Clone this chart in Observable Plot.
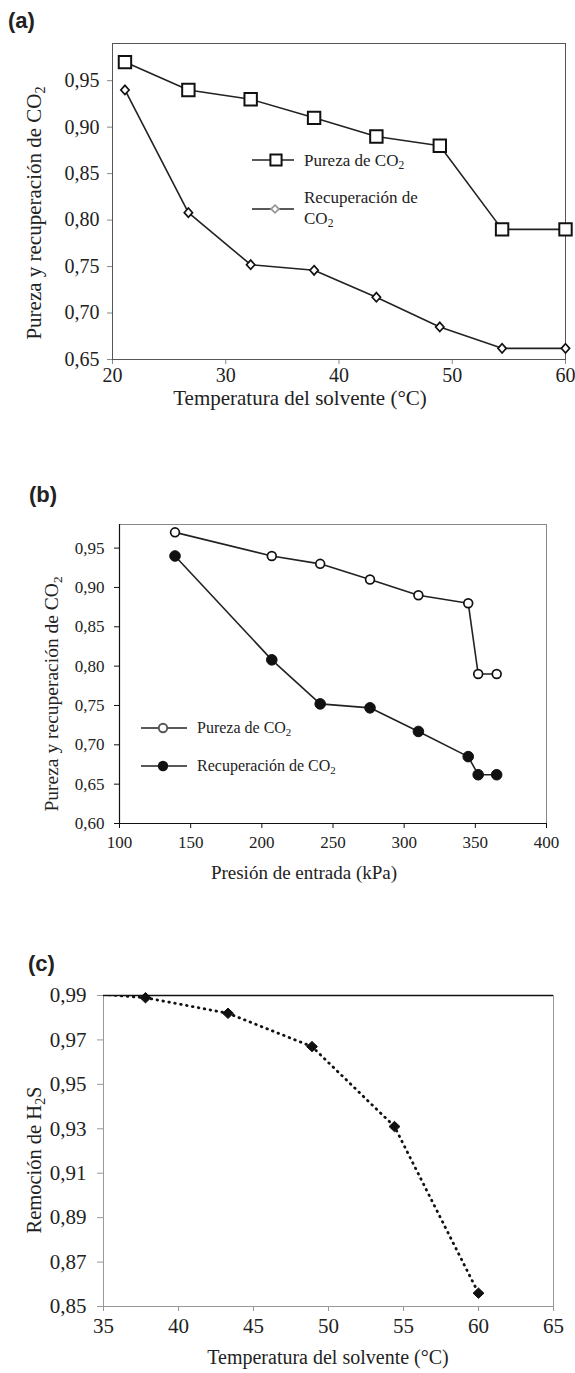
<!DOCTYPE html>
<html><head><meta charset="utf-8">
<script src="https://cdn.jsdelivr.net/npm/d3@7"></script>
<script src="https://cdn.jsdelivr.net/npm/@observablehq/plot@0.6"></script>
<style>
html,body{margin:0;padding:0;background:#fff;}
body{width:575px;height:1373px;position:relative;overflow:hidden;}
.panel{position:absolute;left:0;}
.tag{position:absolute;font-family:"Liberation Sans",Arial,sans-serif;font-weight:bold;font-size:22px;color:#222;line-height:1;}
</style></head><body>
<div class="tag" style="left:8px;top:10px">(a)</div>
<div class="tag" style="left:29px;top:484px">(b)</div>
<div class="tag" style="left:28px;top:953px">(c)</div>
<div class="panel" id="pa" style="top:0px"></div>
<div class="panel" id="pb" style="top:460px"></div>
<div class="panel" id="pc" style="top:890px"></div>
<script>
// ---------- data ----------
// (a) temperature of solvent vs CO2 purity / recovery
const tempA = [21.1, 26.7, 32.2, 37.8, 43.3, 48.9, 54.4, 60.0];
const purezaA = [0.97, 0.94, 0.93, 0.91, 0.89, 0.88, 0.79, 0.79];
const recupA = [0.94, 0.808, 0.752, 0.746, 0.717, 0.685, 0.662, 0.662];
const xTicksA = [20, 30, 40, 50, 60];
const yTicksA = [0.65, 0.70, 0.75, 0.80, 0.85, 0.90, 0.95];

// (b) inlet pressure vs CO2 purity / recovery
const presB = [139, 207, 241, 276, 310, 345, 352, 365];
const purezaB = [0.97, 0.94, 0.93, 0.91, 0.89, 0.88, 0.79, 0.79];
const recupB = [0.94, 0.808, 0.752, 0.747, 0.717, 0.685, 0.662, 0.662];
const xTicksB = [100, 150, 200, 250, 300, 350, 400];
const yTicksB = [0.60, 0.65, 0.70, 0.75, 0.80, 0.85, 0.90, 0.95];

// (c) temperature of solvent vs H2S removal (first point lies just above the plotted range)
const tempC = [32.2, 37.8, 43.3, 48.9, 54.4, 60.0];
const remocionC = [0.992, 0.989, 0.982, 0.967, 0.931, 0.856];
const xTicksC = [35, 40, 45, 50, 55, 60, 65];
const yTicksC = [0.85, 0.87, 0.89, 0.91, 0.93, 0.95, 0.97, 0.99];

const labels = {
  pureza: ["Pureza de CO", "2"],
  recup: ["Recuperación de CO", "2"],
  recup1: "Recuperación de",
  recup2: ["CO", "2"],
  yA: ["Pureza y recuperación de CO", "2"],
  xA: "Temperatura del solvente (°C)",
  xB: "Presión de entrada (kPa)",
  yC: ["Remoción de H", "2", "S"]
};

// ---------- helpers ----------
const fmt = d => d.toFixed(2).replace(".", ",");
const FONT = "Liberation Serif";
const ink = "#222";
const diamond = {draw(ctx, size) {
  const r = Math.sqrt(size / Math.PI);
  ctx.moveTo(0, -r); ctx.lineTo(0.9 * r, 0); ctx.lineTo(0, r); ctx.lineTo(-0.9 * r, 0); ctx.closePath();
}};
const diamondFat = {draw(ctx, size) {
  const r = Math.sqrt(size / Math.PI);
  ctx.moveTo(0, -r); ctx.lineTo(1.05 * r, 0); ctx.lineTo(0, r); ctx.lineTo(-1.05 * r, 0); ctx.closePath();
}};

function rich(g, parts, subIdx, attrs) {
  const t = g.append("text").attr("font-family", FONT).attr("fill", ink).attr("text-anchor", "start");
  for (const k in attrs) t.attr(k, attrs[k]);
  parts.forEach((p, i) => {
    const isSub = subIdx.includes(i);
    const prevSub = i > 0 && subIdx.includes(i - 1);
    const ts = t.append("tspan").text(p);
    if (isSub) ts.attr("font-size", "0.68em").attr("dy", "0.28em");
    else if (prevSub) ts.attr("dy", "-0.19em");
  });
  return t;
}
function plain(g, str, attrs) {
  const t = g.append("text").attr("font-family", FONT).attr("fill", ink).attr("text-anchor", "start").text(str);
  for (const k in attrs) t.attr(k, attrs[k]);
  return t;
}
// axes are drawn in the default colour; afterwards only the tick marks get their grey
function styleAxes(chart, tickColor) {
  const s = d3.select(chart);
  s.selectAll('g[aria-label="x-axis tick"], g[aria-label="y-axis tick"]').attr("stroke", tickColor);
  s.selectAll('g[aria-label*="tick label"]').attr("fill", ink).attr("font-family", FONT);
}

// ---------- (a) ----------
{
  const rows = tempA.map((t, i) => ({t, p: purezaA[i], r: recupA[i]}));
  const chart = Plot.plot({
    width: 575, height: 440,
    marginLeft: 112, marginRight: 10, marginTop: 43, marginBottom: 81,
    style: {fontFamily: FONT, fontSize: "20px", color: ink},
    x: {domain: [20, 60]},
    y: {domain: [0.65, 0.99]},
    marks: [
      Plot.axisX({ticks: xTicksA, tickFormat: d => String(d), tickSize: 5, tickPadding: 3, fontSize: 20, label: null}),
      Plot.axisY({ticks: yTicksA, tickFormat: fmt, tickSize: 5, tickPadding: 8, fontSize: 20, label: null}),
      Plot.frame({stroke: "#555", strokeWidth: 1}),
      Plot.line(rows, {x: "t", y: "p", stroke: ink, strokeWidth: 1.6}),
      Plot.line(rows, {x: "t", y: "r", stroke: ink, strokeWidth: 1.6}),
      Plot.dot(rows, {x: "t", y: "p", symbol: "square", r: 7, fill: "white", stroke: "#111", strokeWidth: 2}),
      Plot.dot(rows, {x: "t", y: "r", symbol: diamond, r: 4.6, fill: "white", stroke: "#111", strokeWidth: 1.7})
    ]
  });
  chart.style.background = "transparent";
  chart.style.overflow = "visible";
  document.getElementById("pa").appendChild(chart);
  styleAxes(chart, "#888");
  const svg = d3.select(chart);
  plain(svg, labels.xA, {x: 300, y: 405, "text-anchor": "middle", "font-size": 21});
  rich(svg, labels.yA, [1], {"font-size": 21, "text-anchor": "middle", transform: "translate(41,213) rotate(-90)"});
  // legend
  const lg = svg.append("g");
  const sym = d3.symbol();
  lg.append("line").attr("x1", 252).attr("x2", 294).attr("y1", 160).attr("y2", 160).attr("stroke", ink).attr("stroke-width", 1.6);
  lg.append("path").attr("transform", "translate(276,160)").attr("d", sym.type(d3.symbolSquare).size(6.3 * 6.3 * Math.PI)())
    .attr("fill", "white").attr("stroke", "#111").attr("stroke-width", 2);
  rich(lg, labels.pureza, [1], {x: 304, y: 166, "font-size": 17});
  lg.append("line").attr("x1", 252).attr("x2", 294).attr("y1", 209).attr("y2", 209).attr("stroke", ink).attr("stroke-width", 1.6);
  lg.append("path").attr("transform", "translate(275,209)").attr("d", sym.type(diamondFat).size(3.8 * 3.8 * Math.PI)())
    .attr("fill", "white").attr("stroke", "#999").attr("stroke-width", 1.8);
  plain(lg, labels.recup1, {x: 304, y: 203, "font-size": 17});
  rich(lg, labels.recup2, [1], {x: 304, y: 224, "font-size": 17});
}

// ---------- (b) ----------
{
  const rows = presB.map((x, i) => ({x, p: purezaB[i], r: recupB[i]}));
  const chart = Plot.plot({
    width: 575, height: 428,
    marginLeft: 119, marginRight: 29, marginTop: 64, marginBottom: 65,
    style: {fontFamily: FONT, fontSize: "17px", color: ink},
    x: {domain: [100, 400]},
    y: {domain: [0.60, 0.98]},
    marks: [
      Plot.frame({stroke: "#888", strokeWidth: 1}),
      Plot.ruleX([100], {stroke: "#111", strokeWidth: 1.2}),
      Plot.ruleY([0.60], {stroke: "#111", strokeWidth: 1.2}),
      Plot.axisX({ticks: xTicksB, tickFormat: d => String(d), tickSize: 5, tickPadding: 7, fontSize: 17, label: null}),
      Plot.axisY({ticks: yTicksB, tickFormat: fmt, tickSize: 5, tickPadding: 10, fontSize: 17, label: null}),
      Plot.line(rows, {x: "x", y: "p", stroke: ink, strokeWidth: 1.6}),
      Plot.line(rows, {x: "x", y: "r", stroke: ink, strokeWidth: 1.6}),
      Plot.dot(rows, {x: "x", y: "p", r: 4.4, fill: "white", stroke: "#111", strokeWidth: 1.7}),
      Plot.dot(rows, {x: "x", y: "r", r: 5.3, fill: "#111", stroke: "#111", strokeWidth: 1})
    ]
  });
  chart.style.background = "transparent";
  chart.style.overflow = "visible";
  document.getElementById("pb").appendChild(chart);
  styleAxes(chart, "#111");
  const svg = d3.select(chart);
  plain(svg, labels.xB, {x: 304, y: 419, "text-anchor": "middle", "font-size": 19});
  rich(svg, labels.yA, [1], {"font-size": 19.5, "text-anchor": "middle", transform: "translate(58,234) rotate(-90)"});
  const lg = svg.append("g");
  lg.append("line").attr("x1", 141).attr("x2", 187).attr("y1", 268).attr("y2", 268).attr("stroke", ink).attr("stroke-width", 1.6);
  lg.append("circle").attr("cx", 163).attr("cy", 268).attr("r", 4.2).attr("fill", "white").attr("stroke", "#555").attr("stroke-width", 1.9);
  rich(lg, labels.pureza, [1], {x: 197, y: 273, "font-size": 16});
  lg.append("line").attr("x1", 141).attr("x2", 187).attr("y1", 306).attr("y2", 306).attr("stroke", ink).attr("stroke-width", 1.6);
  lg.append("circle").attr("cx", 163).attr("cy", 306).attr("r", 5.2).attr("fill", "#111");
  rich(lg, labels.recup, [1], {x: 197, y: 311, "font-size": 16});
}

// ---------- (c) ----------
{
  const rows = tempC.map((t, i) => ({t, v: remocionC[i]}));
  const pts = rows.filter(d => d.v <= 0.99);
  const chart = Plot.plot({
    width: 575, height: 483,
    marginLeft: 103, marginRight: 22, marginTop: 105, marginBottom: 67,
    style: {fontFamily: FONT, fontSize: "21px", color: ink},
    x: {domain: [35, 65]},
    y: {domain: [0.85, 0.99]},
    marks: [
      Plot.frame({stroke: "#999", strokeWidth: 1}),
      Plot.ruleY([0.99], {stroke: "#111", strokeWidth: 1.3}),
      Plot.axisX({ticks: xTicksC, tickFormat: d => String(d), tickSize: 5, tickPadding: 7, fontSize: 21, label: null}),
      Plot.axisY({ticks: yTicksC, tickFormat: fmt, tickSize: 6, tickPadding: 11, fontSize: 21, label: null}),
      Plot.line(rows, {x: "t", y: "v", stroke: "#111", strokeWidth: 2.8, strokeDasharray: "0.6,5.4", strokeLinecap: "round", clip: true}),
      Plot.dot(pts, {x: "t", y: "v", symbol: diamondFat, r: 5.2, fill: "#111", stroke: "#111", strokeWidth: 1})
    ]
  });
  chart.style.background = "transparent";
  chart.style.overflow = "visible";
  document.getElementById("pc").appendChild(chart);
  styleAxes(chart, "#999");
  const svg = d3.select(chart);
  plain(svg, labels.xA, {x: 328, y: 474, "text-anchor": "middle", "font-size": 20});
  rich(svg, labels.yC, [1], {"font-size": 20.5, "text-anchor": "middle", transform: "translate(41,270) rotate(-90)"});
}
</script>
</body></html>
